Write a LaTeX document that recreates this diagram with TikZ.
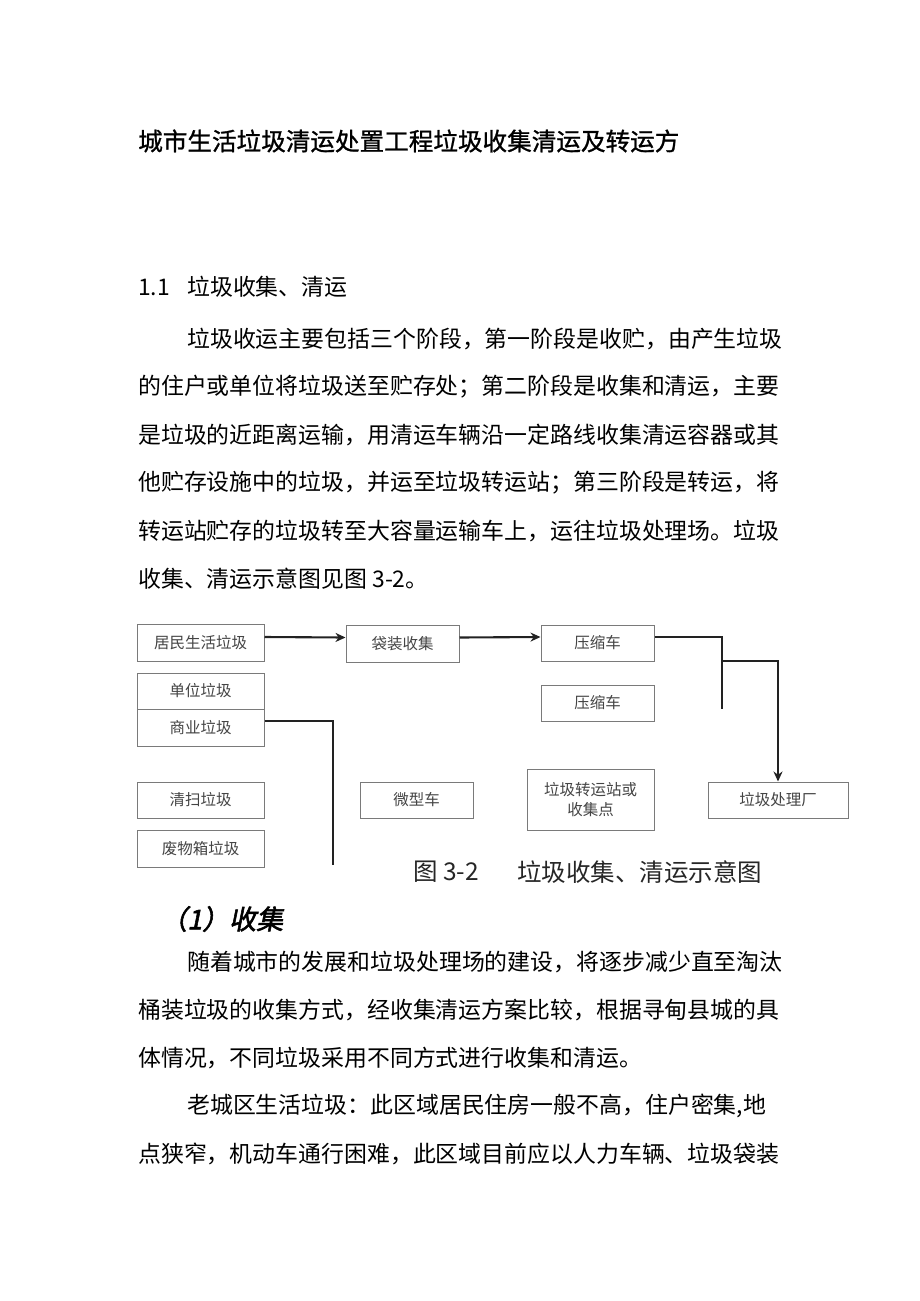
\documentclass[tikz,border=0pt]{standalone}
\usepackage{fontspec}
\setmainfont{Noto Sans CJK SC}
\newfontfamily\cjkbi[FakeSlant=0.2,FakeBold=2]{Noto Sans CJK SC}
\newfontfamily\cjkmed[FakeBold=1]{Noto Sans CJK SC}
\usetikzlibrary{arrows.meta}
\definecolor{boxline}{HTML}{7A7A7A}
\definecolor{boxtext}{HTML}{444444}
\definecolor{conn}{HTML}{222222}
\newcommand\mybody{\fontsize{22.9}{24}\selectfont}
\newcommand\mytitle{\cjkmed\fontsize{24.6}{26}\selectfont}
\newcommand\myboxfont{\fontsize{15.5}{20}\selectfont}
\newcommand\mycap{\fontsize{24.5}{26}\selectfont}
\tikzset{
  flowbox/.style={draw=boxline, line width=1pt, text=boxtext, font=\myboxfont,
    minimum height=#1, inner sep=0pt, align=center},
  flowbox/.default=36pt,
  conline/.style={draw=conn, line width=2.1pt},
  arr/.style={conline, -{Stealth[length=10pt,width=9pt]}},
  txt/.style={anchor=west, inner sep=0pt, font=\mybody, text=black},
}
\begin{document}
\begin{tikzpicture}[x=1pt,y=-1pt]
\useasboundingbox[fill=white] (0,0) rectangle (920,1301);

% title and text above
\node[txt, font=\mytitle] (title) at (138,141) {城市生活垃圾清运处置工程垃圾收集清运及转运方};
\node[txt] (h1num) at (138,287) {1.1};
\node[txt] (h1) at (187,287) {垃圾收集、清运};
\node[txt] (p1) at (187,339) {垃圾收运主要包括三个阶段，第一阶段是收贮，由产生垃圾};
\node[txt] (p2) at (138,387) {的住户或单位将垃圾送至贮存处；第二阶段是收集和清运，主要};
\node[txt] (p3) at (138,435) {是垃圾的近距离运输，用清运车辆沿一定路线收集清运容器或其};
\node[txt] (p4) at (138,483) {他贮存设施中的垃圾，并运至垃圾转运站；第三阶段是转运，将};
\node[txt] (p5) at (138,531) {转运站贮存的垃圾转至大容量运输车上，运往垃圾处理场。垃圾};
\node[txt] (p6) at (138,579) {收集、清运示意图见图 3-2。};

% diagram boxes
\node[flowbox=37pt, minimum width=127pt] (jm) at (200.5,643) {居民生活垃圾};
\node[flowbox=37pt, minimum width=113pt] (dz) at (402.5,643.5) {袋装收集};
\node[flowbox, minimum width=113pt] (ys1) at (597.5,643) {压缩车};
\node[flowbox, minimum width=113pt] (ys2) at (597.5,703) {压缩车};
\node[flowbox, minimum width=127pt] (dw) at (200.5,691) {单位垃圾};
\node[flowbox=37pt, minimum width=127pt] (sy) at (200.5,727.5) {商业垃圾};
\node[flowbox, minimum width=127pt] (qs) at (200.5,800) {清扫垃圾};
\node[flowbox=37pt, minimum width=127pt] (fw) at (200.5,848.5) {废物箱垃圾};
\node[flowbox, minimum width=113pt] (wx) at (416.5,800) {微型车};
\node[flowbox=61pt, minimum width=127pt] (zz) at (590.5,799.5) {垃圾转运站或\\收集点};
\node[flowbox, minimum width=140pt] (cl) at (778,800) {垃圾处理厂};

% connectors
\draw[arr] ([yshift=6pt]jm.east) -- ([yshift=6pt]dz.west);
\draw[arr] ([yshift=6pt]dz.east) -- ([yshift=6pt]ys1.west);
\coordinate (ja) at (722,637);
\coordinate (jb) at (722,709);
\coordinate (jc) at (722,661);
\coordinate (jd) at (778,661);
\draw[conline] ([yshift=6pt]ys1.east) -- (ja) -- (jb);
\draw[arr] (jc) -- (jd) -- (cl.north);
\coordinate (ka) at (333,721);
\coordinate (kb) at (333,865);
\draw[conline] ([yshift=6.5pt]sy.east) -- (ka) -- (kb);

% caption
\node[txt, font=\mycap, text=black!85] (capnum) at (413,872) {图 3-2};
\node[txt, font=\mycap, text=black!85] (cap) at (517,872) {垃圾收集、清运示意图};

% text below
\node[txt, font=\cjkbi\fontsize{27}{28}\selectfont] (h2) at (160,919) {（1）收集};
\node[txt] (q1) at (187,962) {随着城市的发展和垃圾处理场的建设，将逐步减少直至淘汰};
\node[txt] (q2) at (138,1010) {桶装垃圾的收集方式，经收集清运方案比较，根据寻甸县城的具};
\node[txt] (q3) at (138,1058) {体情况，不同垃圾采用不同方式进行收集和清运。};
\node[txt] (q4) at (187,1106) {老城区生活垃圾：此区域居民住房一般不高，住户密集,地};
\node[txt] (q5) at (138,1154) {点狭窄，机动车通行困难，此区域目前应以人力车辆、垃圾袋装};
\end{tikzpicture}
\end{document}
